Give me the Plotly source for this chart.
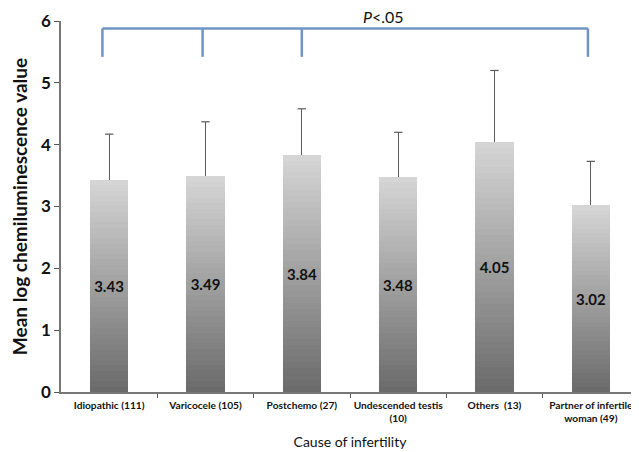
import plotly.graph_objects as go

categories = ["Idiopathic (111)", "Varicocele (105)", "Postchemo (27)",
              "Undescended testis<br>(10)", "Others  (13)", "Partner of infertile<br>woman (49)"]
means = [3.43, 3.49, 3.84, 3.48, 4.05, 3.02]
upper_sd = [0.74, 0.88, 0.74, 0.72, 1.15, 0.71]
labels = ["3.43", "3.49", "3.84", "3.48", "4.05", "3.02"]
y_ticks = [0, 1, 2, 3, 4, 5, 6]
bracket_groups = [0, 1, 2, 5]
bracket_level = 5.88
bracket_drop = 5.42

FONT = "Lato"
N = 40
dark = (106, 106, 106)
light = (214, 214, 214)
bw = 0.40

fig = go.Figure()
xs = list(range(len(categories)))
for k in range(N):
    t = (k + 0.5) / N
    c = tuple(round(dark[i] + (light[i] - dark[i]) * t) for i in range(3))
    fig.add_trace(go.Bar(
        x=xs, y=[m / N * 1.002 for m in means], base=[m * k / N for m in means],
        width=bw, marker=dict(color="rgb(%d,%d,%d)" % c, line=dict(width=0)),
        showlegend=False, hoverinfo="skip"))

fig.add_trace(go.Bar(
    x=xs, y=means, width=bw,
    marker=dict(color="rgba(0,0,0,0)", line=dict(width=0)),
    text=labels, textposition="inside", insidetextanchor="middle",
    textfont=dict(family=FONT, size=15, color="#111111", weight="bold"),
    error_y=dict(type="data", symmetric=False, array=upper_sd,
                 arrayminus=[0] * len(means), color="#5a5a5a", thickness=1.2, width=0),
    showlegend=False, hoverinfo="skip"))

# caps on top of the error bars only
fig.add_trace(go.Scatter(
    x=xs, y=[m + s for m, s in zip(means, upper_sd)], mode="markers",
    marker=dict(symbol="line-ew", size=6, line=dict(color="#5a5a5a", width=1.2)),
    showlegend=False, hoverinfo="skip", cliponaxis=False))

# significance bracket
lc = "#7194c6"
fig.add_shape(type="line", x0=bracket_groups[0] - 0.07, x1=bracket_groups[-1] - 0.03,
              y0=bracket_level, y1=bracket_level, line=dict(color=lc, width=2.5))
for g in bracket_groups:
    off = -0.07 if g == 0 else (-0.03 if g != 2 else 0.0)
    fig.add_shape(type="line", x0=g + off, x1=g + off, y0=bracket_level, y1=bracket_drop,
                  line=dict(color=lc, width=2.5))
fig.add_annotation(x=2.85, xref="x", y=1, yref="y domain", yshift=5,
                   text="<i>P</i><.05", showarrow=False,
                   font=dict(family=FONT, size=16, color="#111111"), yanchor="middle")

# page body has an 8px default margin, so the figure is sized to fit the window
fig.update_layout(
    barmode="overlay", bargap=0,
    width=631, height=444,
    margin=dict(l=53, r=0, t=13, b=60),
    plot_bgcolor="white", paper_bgcolor="white",
    font=dict(family=FONT),
    uniformtext=dict(minsize=8, mode="show"),
)
fig.update_xaxes(
    range=[-0.5, 5.5], tickmode="array", tickvals=xs, ticktext=categories,
    tickfont=dict(family=FONT, size=10.2, color="#111111", weight="bold"),
    ticklabelstandoff=3,
    showline=True, linecolor="#777777", linewidth=1.5,
    ticks="", automargin=False,
    minor=dict(tickmode="array", tickvals=[i + 0.5 for i in xs[:-1]], ticks="outside",
               ticklen=4, tickcolor="#555555"),
    title=dict(text="Cause of infertility", font=dict(family=FONT, size=14, color="#111111"),
               standoff=14),
    showgrid=False, zeroline=False,
)
fig.update_yaxes(
    range=[0, 6], tickvals=y_ticks, automargin=False,
    tickfont=dict(family=FONT, size=17, color="#111111", weight="bold"),
    showline=True, linecolor="#777777", linewidth=1.5,
    ticks="outside", ticklen=5, tickcolor="#555555",
    title=dict(text="Mean log chemiluminescence value",
               font=dict(family=FONT, size=19, color="#111111", weight="bold"), standoff=16),
    showgrid=False, zeroline=False,
)

fig.write_html("out.html")
